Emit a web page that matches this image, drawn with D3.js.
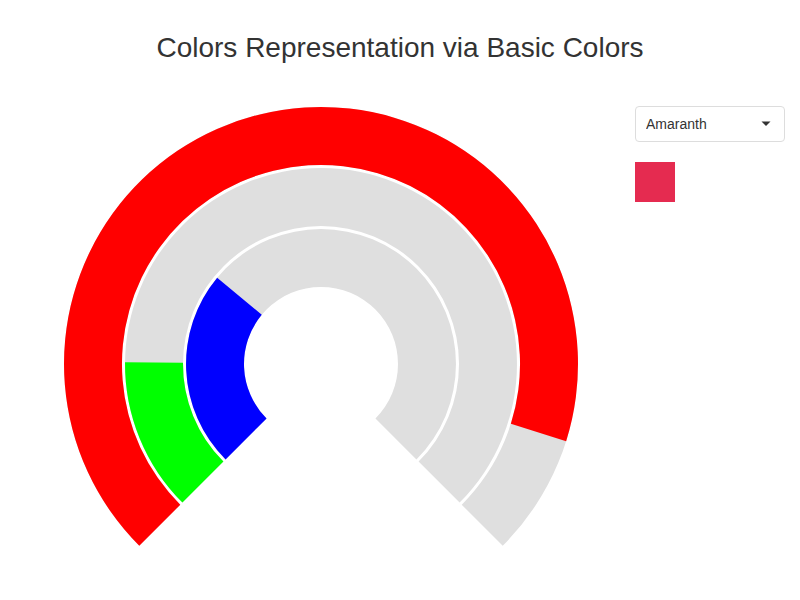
<!DOCTYPE html>
<html>
<head>
<meta charset="utf-8">
<script src="https://d3js.org/d3.v7.min.js"></script>
<style>
    body { margin: 0; background: #fff; font-family: "Liberation Sans", Arial, sans-serif; }
    #wrap { position: relative; width: 800px; height: 600px; }
    #color_select {
        position: absolute; left: 635px; top: 106px; width: 150px; height: 36px;
        box-sizing: border-box; border: 1px solid #ddd; border-radius: 4px;
        padding: 0 10px; font-size: 14px; color: #333; background: #fff;
        font-family: "Liberation Sans", Arial, sans-serif;
        -webkit-appearance: none; appearance: none; outline: none;
    }
    #caret { position: absolute; left: 761px; top: 121px; pointer-events: none; }
</style>
</head>
<body>
<div id="wrap">
    <svg id="chart" width="800" height="600"></svg>
    <select id="color_select"></select>
    <svg id="caret" width="10" height="6"><path d="M0.5,0.5 L9.5,0.5 L5,5 Z" fill="#333"></path></svg>
</div>
<script>
// Named colours offered by the dropdown and their RGB parts
const colorNames = ["Amaranth", "Azure", "Chartreuse", "Coral", "Teal"];
const colorHex = ["#e52b50", "#007fff", "#7fff00", "#ff7f50", "#008080"];

// Channels, drawn from the inner ring outwards
const channels = ["B", "G", "R"];
const channelFill = ["#0000ff", "#00ff00", "#ff0000"];

const width = 800, height = 600;
const cx = 321, cy = 364;

const svg = d3.select("#chart");

svg.append("text")
    .attr("x", width / 2)
    .attr("y", 57)
    .attr("text-anchor", "middle")
    .attr("font-size", 28)
    .attr("fill", "#333")
    .text("Colors Representation via Basic Colors");

const g = svg.append("g").attr("transform", `translate(${cx},${cy})`);

const angle = d3.scaleLinear()
    .domain([0, 255])
    .range([-3 * Math.PI / 4, 3 * Math.PI / 4]);

const radius = d3.scaleBand()
    .domain(channels)
    .range([77, 257])
    .paddingInner(0.05);

const arc = d3.arc()
    .innerRadius(d => radius(d.channel))
    .outerRadius(d => radius(d.channel) + radius.bandwidth())
    .startAngle(angle(0))
    .endAngle(d => angle(d.value));

const swatch = svg.append("rect")
    .attr("x", 635).attr("y", 162)
    .attr("width", 40).attr("height", 40);

// background tracks
g.selectAll(".track").data(channels).enter().append("path")
    .attr("class", "track")
    .attr("fill", "#dfdfdf")
    .attr("d", c => arc({ channel: c, value: 255 }));

const bars = g.selectAll(".bar").data(channels).enter().append("path")
    .attr("class", "bar")
    .attr("fill", (c, i) => channelFill[i]);

function draw(hex) {
    const rgb = d3.rgb(hex);
    const values = { R: rgb.r, G: rgb.g, B: rgb.b };
    bars.attr("d", c => arc({ channel: c, value: values[c] }));
    swatch.attr("fill", hex);
}

const select = d3.select("#color_select")
    .on("change", function () {
        draw(colorHex[this.selectedIndex]);
    });

select.selectAll("option").data(colorNames).enter().append("option")
    .attr("value", d => d)
    .text(d => d);

draw(colorHex[0]);
</script>
</body>
</html>
